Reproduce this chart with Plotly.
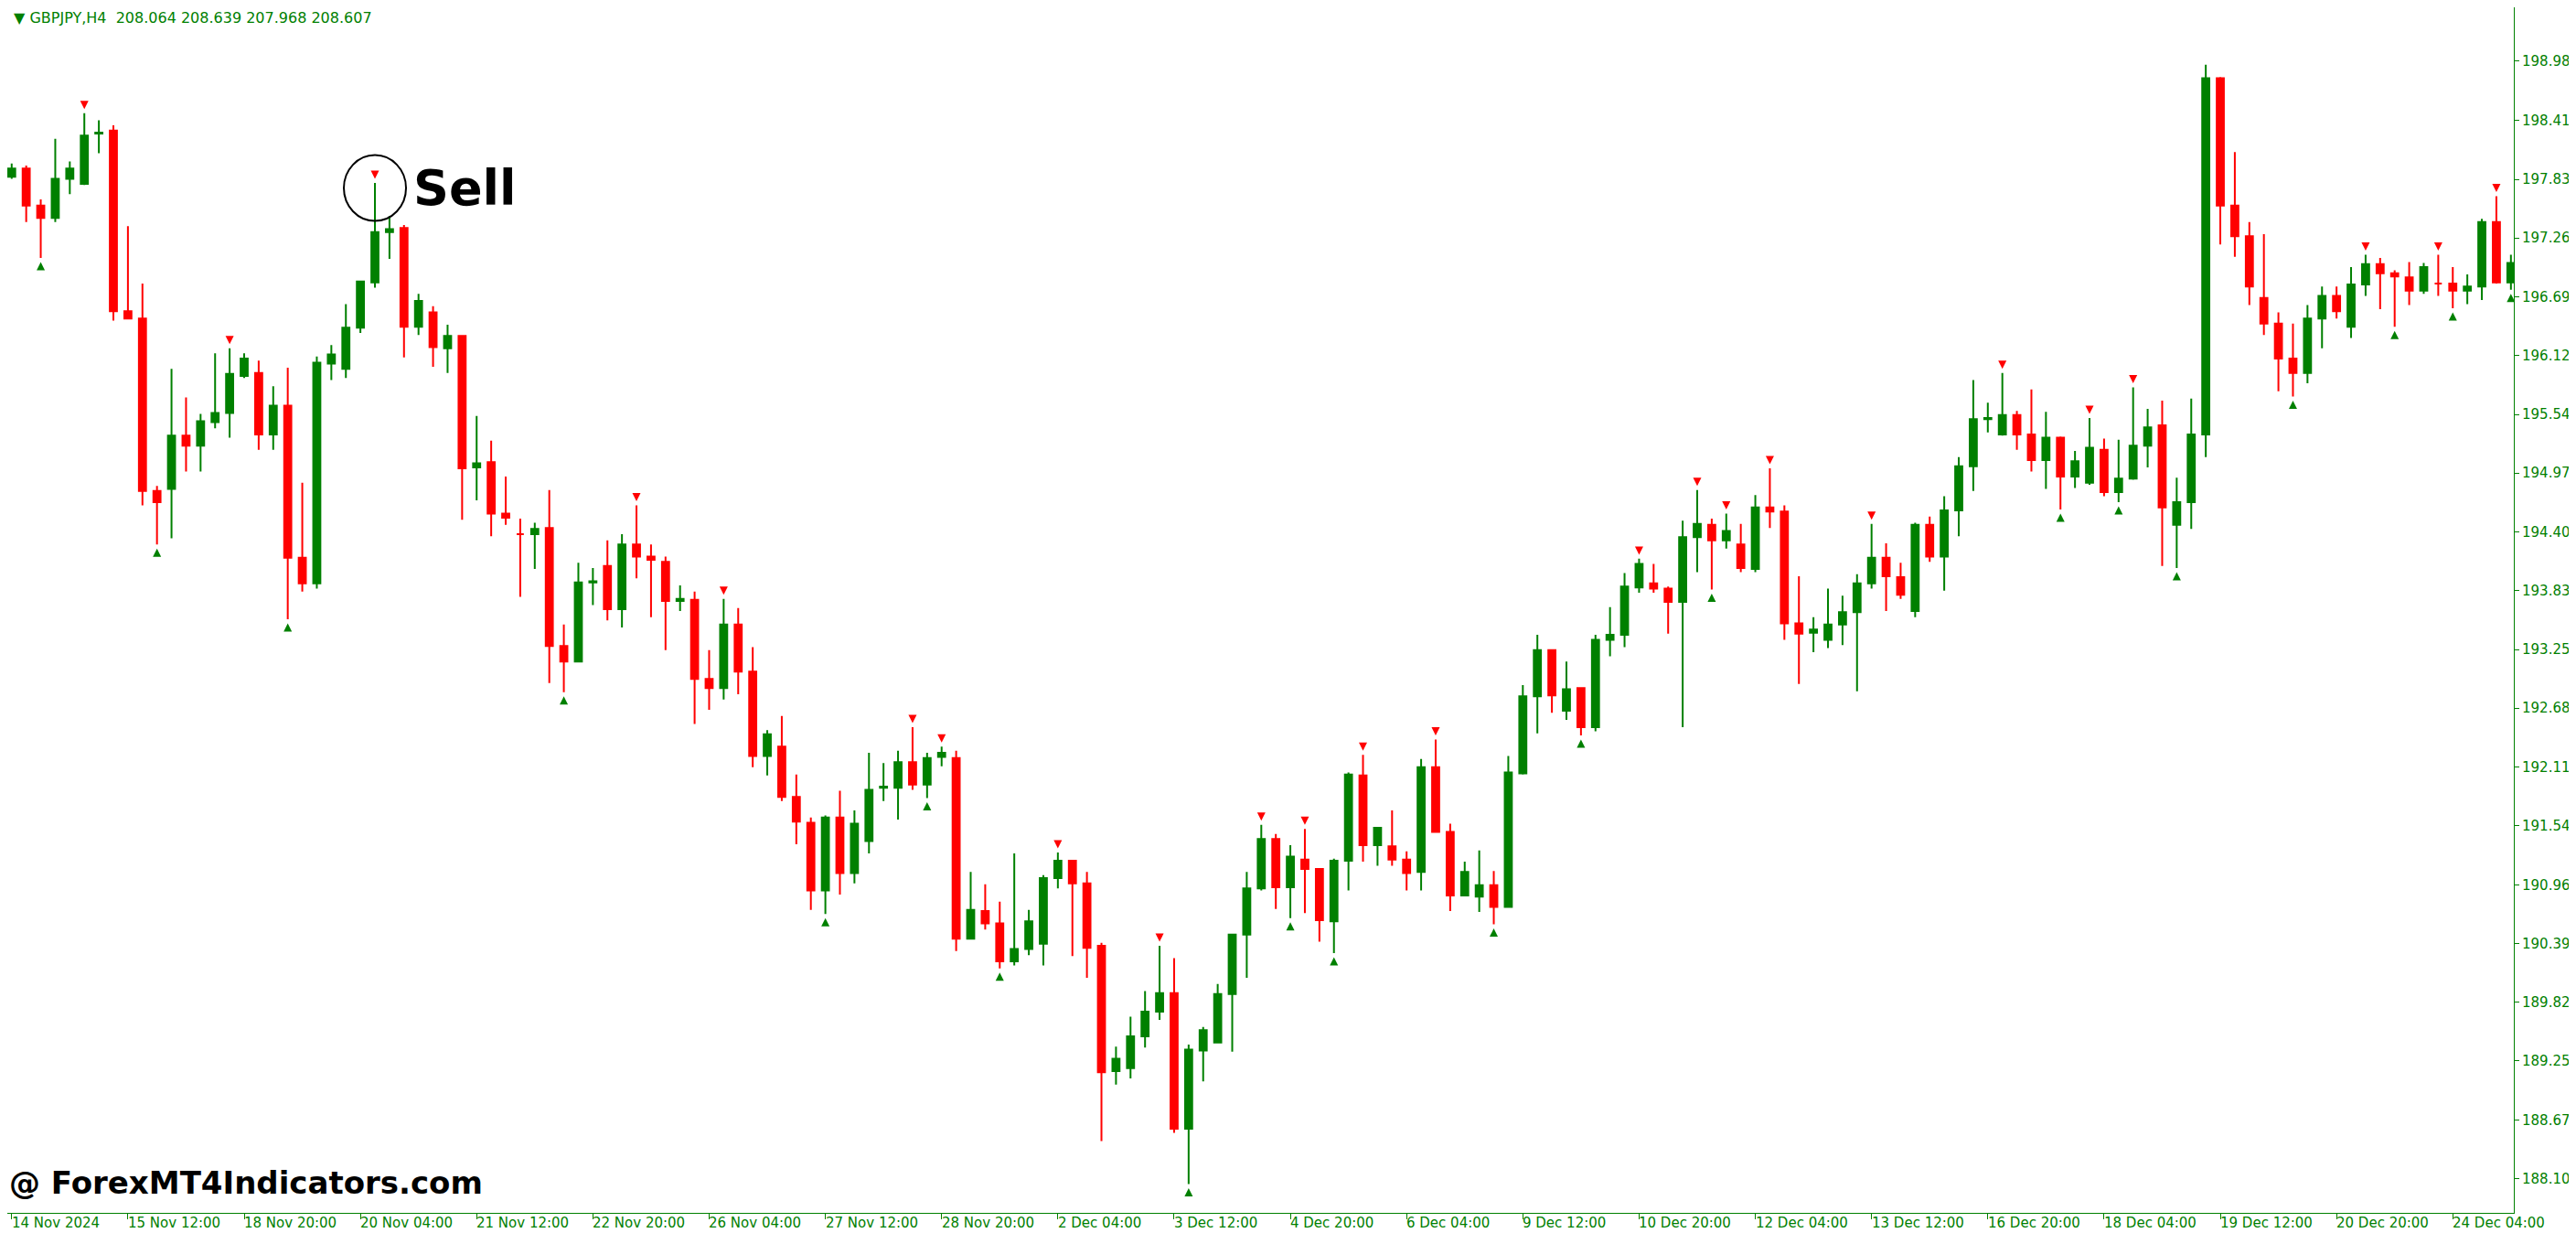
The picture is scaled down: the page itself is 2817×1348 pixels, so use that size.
import plotly.graph_objects as go

# GBPJPY H4 candles
opens = [197.86,197.94,197.58,197.46,197.84,197.79,198.28,198.31,196.55,196.48,
         194.80,194.82,195.34,195.24,195.47,195.56,195.92,195.95,195.35,195.63,
         194.15,193.90,196.04,195.99,196.39,196.83,197.32,197.36,196.40,196.54,
         196.19,196.31,195.03,195.08,194.58,194.38,194.38,194.44,193.29,193.14,
         193.91,194.07,193.65,194.28,194.16,194.11,193.73,193.74,192.97,192.88,
         193.50,193.04,192.22,192.31,191.82,191.57,190.91,191.62,191.08,191.39,
         191.91,191.91,192.16,191.94,192.21,192.20,190.44,190.71,190.59,190.22,
         190.34,190.39,191.03,191.20,190.98,190.37,189.15,189.18,189.49,189.73,
         189.91,188.59,189.35,189.43,189.90,190.48,190.93,191.41,190.94,191.21,
         191.12,190.61,191.20,192.03,191.35,191.34,191.21,191.09,192.11,191.48,
         190.86,190.85,190.96,190.75,192.05,192.80,193.25,192.66,192.88,192.50,
         193.35,193.40,193.86,193.90,193.85,193.72,194.35,194.47,194.32,194.28,
         194.04,194.64,194.60,193.51,193.42,193.35,193.50,193.62,193.90,194.15,
         193.96,193.63,194.47,194.16,194.61,195.04,195.50,195.35,195.54,195.35,
         195.10,195.32,194.94,194.88,195.20,194.79,194.92,195.24,195.44,194.47,
         194.69,195.35,198.82,197.58,197.28,196.68,196.43,196.09,195.95,196.48,
         196.70,196.40,196.81,197.01,196.92,196.88,196.75,196.82,196.82,196.75,
         196.79,197.42,196.83]
highs = [197.99,197.97,197.64,198.23,198.01,198.48,198.41,198.36,197.38,196.82,
         194.85,195.99,195.71,195.55,196.14,196.19,196.14,196.07,195.82,196.00,
         194.88,196.11,196.22,196.62,196.84,197.80,197.48,197.39,196.72,196.60,
         196.42,196.31,195.53,195.29,194.94,194.53,194.49,194.81,193.50,194.10,
         194.05,194.32,194.38,194.66,194.28,194.16,193.88,193.82,193.25,193.75,
         193.66,193.28,192.47,192.61,192.04,191.62,191.64,191.88,191.69,192.25,
         192.15,192.27,192.50,192.25,192.31,192.27,191.09,190.97,190.80,191.27,
         190.72,191.06,191.28,191.20,191.09,190.40,189.39,189.68,189.93,190.37,
         190.25,189.41,189.58,190.00,190.49,191.09,191.55,191.46,191.35,191.51,
         191.12,191.22,192.06,192.23,191.53,191.69,191.29,192.19,192.38,191.56,
         191.19,191.30,191.10,192.22,192.91,193.40,193.25,193.14,192.88,193.40,
         193.67,194.00,194.14,194.09,193.87,194.51,194.81,194.53,194.58,194.48,
         194.76,195.02,194.66,193.97,193.57,193.85,193.78,193.99,194.48,194.29,
         194.10,194.49,194.55,194.75,195.13,195.88,195.66,195.95,195.58,195.79,
         195.57,195.33,195.19,195.51,195.31,195.30,195.81,195.60,195.68,194.93,
         195.70,198.95,198.83,198.10,197.42,197.30,196.54,196.43,196.61,196.79,
         196.79,196.98,197.10,197.07,196.95,197.03,197.02,197.10,196.98,196.91,
         197.45,197.67,197.10]
lows = [197.84,197.42,197.07,197.42,197.69,197.78,198.09,196.46,196.48,194.66,
        194.28,194.34,194.99,194.99,195.41,195.32,195.90,195.20,195.20,193.55,
        193.82,193.85,195.88,195.90,196.34,196.78,197.06,196.10,196.32,196.01,
        195.95,194.52,194.71,194.36,194.47,193.77,194.04,192.93,192.84,193.14,
        193.69,193.54,193.47,193.95,193.57,193.25,193.63,192.53,192.67,192.77,
        192.82,192.11,192.03,191.78,191.36,190.72,190.68,190.87,190.98,191.27,
        191.78,191.60,191.89,191.81,192.12,190.32,190.44,190.53,190.15,190.18,
        190.28,190.18,190.93,190.27,190.06,188.47,189.02,189.08,189.38,189.65,
        188.55,188.05,189.05,189.43,189.34,190.06,190.91,190.73,190.64,190.69,
        190.41,190.30,190.91,191.19,191.15,191.15,190.91,190.91,191.47,190.71,
        190.86,190.70,190.58,190.75,192.04,192.44,192.64,192.57,192.42,192.46,
        193.19,193.28,193.81,193.81,193.41,192.50,194.01,193.84,194.24,194.01,
        194.01,194.44,193.35,192.92,193.23,193.27,193.30,192.85,193.85,193.63,
        193.75,193.57,194.11,193.83,194.36,194.80,195.37,195.34,195.20,194.99,
        194.82,194.62,194.83,194.86,194.75,194.69,194.91,195.03,194.07,194.05,
        194.43,195.13,197.20,197.08,196.61,196.32,195.77,195.72,195.85,196.19,
        196.48,196.29,196.70,196.57,196.40,196.61,196.72,196.70,196.58,196.62,
        196.66,196.82,196.76]
closes = [197.94,197.58,197.46,197.84,197.94,198.26,198.29,196.55,196.48,194.80,
          194.69,195.34,195.24,195.48,195.56,195.94,196.09,195.35,195.63,194.15,
          193.90,196.05,196.13,196.39,196.84,197.32,197.35,196.40,196.65,196.20,
          196.31,195.02,195.07,194.58,194.54,194.38,194.43,193.29,193.14,193.91,
          193.92,193.65,194.28,194.16,194.13,193.73,193.75,192.97,192.88,193.50,
          193.04,192.22,192.43,191.82,191.58,190.91,191.62,191.08,191.56,191.89,
          191.92,192.16,191.94,192.20,192.25,190.44,190.72,190.59,190.22,190.34,
          190.61,191.03,191.20,190.98,190.35,189.14,189.27,189.49,189.73,189.91,
          188.59,189.36,189.55,189.90,190.48,190.93,191.41,190.94,191.24,191.12,
          190.62,191.20,192.04,191.35,191.52,191.21,191.08,192.11,191.48,190.86,
          191.09,190.96,190.75,192.06,192.80,193.25,192.81,192.87,192.50,193.35,
          193.40,193.87,194.09,193.85,193.72,194.35,194.48,194.32,194.41,194.05,
          194.64,194.60,193.51,193.41,193.45,193.50,193.62,193.90,194.15,193.97,
          193.79,194.47,194.16,194.61,195.04,195.50,195.51,195.54,195.35,195.10,
          195.32,194.94,195.09,195.22,194.79,194.92,195.24,195.42,194.64,194.69,
          195.35,198.82,197.58,197.28,196.79,196.43,196.09,195.95,196.48,196.70,
          196.55,196.81,197.01,196.92,196.89,196.75,196.98,196.82,196.75,196.79,
          197.42,196.83,197.02]

sell_idx = [5, 15, 25, 43, 49, 62, 64, 72, 79, 86, 89, 93, 98, 112, 116, 118,
            121, 128, 137, 143, 146, 162, 167, 171]
buy_idx = [2, 10, 19, 38, 56, 63, 68, 81, 88, 91, 102, 108, 117, 141, 145,
           149, 157, 164, 168, 172]

date_labels = ["14 Nov 2024", "15 Nov 12:00", "18 Nov 20:00", "20 Nov 04:00",
               "21 Nov 12:00", "22 Nov 20:00", "26 Nov 04:00", "27 Nov 12:00",
               "28 Nov 20:00", "2 Dec 04:00", "3 Dec 12:00", "4 Dec 20:00",
               "6 Dec 04:00", "9 Dec 12:00", "10 Dec 20:00", "12 Dec 04:00",
               "13 Dec 12:00", "16 Dec 20:00", "18 Dec 04:00", "19 Dec 12:00",
               "20 Dec 20:00", "24 Dec 04:00"]
price_ticks = [198.985, 198.410, 197.835, 197.265, 196.690, 196.120, 195.545,
               194.975, 194.400, 193.830, 193.255, 192.685, 192.110, 191.540,
               190.965, 190.395, 189.820, 189.250, 188.675, 188.100]

GREEN = "#008000"
RED = "#FF0000"
idx = list(range(len(opens)))
label_pos = list(range(0, 8 * len(date_labels), 8))

fig = go.Figure()
fig.add_trace(go.Candlestick(
    x=idx, open=opens, high=highs, low=lows, close=closes,
    increasing=dict(line=dict(color=GREEN, width=2), fillcolor=GREEN),
    decreasing=dict(line=dict(color=RED, width=2), fillcolor=RED),
    whiskerwidth=0, showlegend=False, hoverinfo="skip"))

fig.add_trace(go.Scatter(
    x=sell_idx, y=[highs[i] + 0.04 for i in sell_idx], mode="markers",
    marker=dict(symbol="arrow-down", size=9, color=RED),
    showlegend=False, hoverinfo="skip"))
fig.add_trace(go.Scatter(
    x=buy_idx, y=[lows[i] - 0.04 for i in buy_idx], mode="markers",
    marker=dict(symbol="arrow-up", size=9, color=GREEN),
    showlegend=False, hoverinfo="skip"))

# circle around the sell signal
fig.add_shape(type="circle", xref="x", yref="y", xsizemode="pixel", ysizemode="pixel",
              xanchor=25, yanchor=highs[25] - 0.05, x0=-34, x1=34, y0=-36, y1=36,
              line=dict(color="black", width=2))
fig.add_annotation(x=27.5, y=highs[25] - 0.05, text="<b>Sell</b>", showarrow=False,
                   xanchor="left", font=dict(family="DejaVu Sans", size=54, color="black"))
fig.add_annotation(x=0.0, y=0.008, xref="paper", yref="paper",
                   text="<b>@ ForexMT4Indicators.com</b>", showarrow=False,
                   xanchor="left", yanchor="bottom",
                   font=dict(family="DejaVu Sans", size=34, color="black"))
fig.add_annotation(x=0.002, y=1.0, xref="paper", yref="paper",
                   text="▼ GBPJPY,H4  208.064 208.639 207.968 208.607", showarrow=False,
                   xanchor="left", yanchor="top",
                   font=dict(family="DejaVu Sans", size=16, color=GREEN))

# MT4 style date labels, left aligned at their tick
for p, t in zip(label_pos, date_labels):
    fig.add_annotation(x=p, y=0, xref="x", yref="paper", text=t, showarrow=False,
                       xanchor="left", yanchor="top", yshift=0, xshift=-2,
                       font=dict(family="DejaVu Sans", size=15, color=GREEN))

fig.update_layout(
    width=2817, height=1348,
    margin=dict(l=0, r=76, t=0, b=30),
    paper_bgcolor="white", plot_bgcolor="white",
    xaxis=dict(range=[-0.3, 172.2], rangeslider=dict(visible=False),
               tickmode="array", tickvals=label_pos, ticktext=["" for _ in label_pos],
               ticks="outside", ticklen=6, tickcolor=GREEN,
               showgrid=False, zeroline=False, showline=True, linecolor=GREEN),
    yaxis=dict(range=[187.77, 199.51], side="right", tickmode="array",
               tickvals=price_ticks, ticktext=[f"{v:.3f}" for v in price_ticks],
               ticks="outside", ticklen=5, tickcolor=GREEN,
               showgrid=False, zeroline=False, showline=True, linecolor=GREEN,
               tickfont=dict(family="DejaVu Sans", size=15, color=GREEN)),
)

fig.write_html("out.html")
